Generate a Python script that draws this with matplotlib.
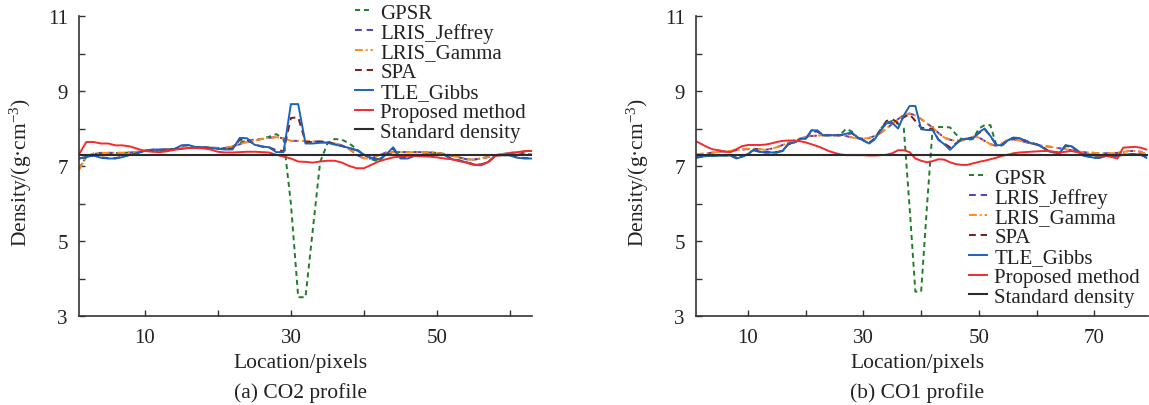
import numpy as np
import matplotlib
matplotlib.use("Agg")
import matplotlib.pyplot as plt

plt.rcParams['font.family'] = ['Liberation Serif', 'DejaVu Serif']
plt.rcParams['mathtext.fontset'] = 'custom'
plt.rcParams['mathtext.rm'] = 'Liberation Serif'
plt.rcParams['mathtext.it'] = 'Liberation Serif:italic'

# ---- (a) CO2 profile, locations 1..63 ----
loc_a = list(range(1, 64))
gamma_a = [6.90, 7.25, 7.33, 7.35, 7.35, 7.35, 7.35, 7.36, 7.38, 7.41,
           7.42, 7.43, 7.44, 7.45, 7.46, 7.48, 7.50, 7.50, 7.49, 7.48,
           7.48, 7.52, 7.58, 7.64, 7.68, 7.72, 7.75, 7.77, 7.74, 7.67,
           7.67, 7.67, 7.66, 7.65, 7.63, 7.60, 7.55, 7.45, 7.30, 7.20,
           7.20, 7.28, 7.36, 7.37, 7.37, 7.37, 7.37, 7.37, 7.36, 7.35,
           7.32, 7.28, 7.23, 7.18, 7.17, 7.20, 7.24, 7.29, 7.32, 7.35,
           7.36, 7.34, 7.30]
jeffrey_a = [6.92, 7.24, 7.32, 7.34, 7.35, 7.35, 7.35, 7.36, 7.38, 7.41,
             7.42, 7.43, 7.44, 7.45, 7.46, 7.48, 7.50, 7.50, 7.49, 7.48,
             7.48, 7.52, 7.58, 7.64, 7.68, 7.72, 7.75, 7.77, 7.74, 7.67,
             7.67, 7.67, 7.66, 7.65, 7.63, 7.60, 7.55, 7.45, 7.30, 7.20,
             7.20, 7.28, 7.36, 7.37, 7.37, 7.37, 7.37, 7.37, 7.36, 7.35,
             7.32, 7.28, 7.23, 7.18, 7.17, 7.20, 7.24, 7.29, 7.32, 7.35,
             7.36, 7.34, 7.30]
gpsr_a = [6.92, 7.25, 7.33, 7.35, 7.35, 7.35, 7.35, 7.36, 7.38, 7.41,
          7.42, 7.43, 7.44, 7.45, 7.46, 7.48, 7.50, 7.50, 7.49, 7.48,
          7.48, 7.52, 7.62, 7.68, 7.70, 7.72, 7.78, 7.85, 7.72, 6.00,
          3.50, 3.50, 5.30, 7.10, 7.60, 7.72, 7.70, 7.60, 7.45, 7.30,
          7.18, 7.12, 7.30, 7.37, 7.37, 7.37, 7.37, 7.37, 7.36, 7.35,
          7.32, 7.28, 7.23, 7.18, 7.17, 7.20, 7.24, 7.29, 7.32, 7.35,
          7.36, 7.34, 7.30]
tle_a = [7.20, 7.24, 7.28, 7.22, 7.20, 7.20, 7.24, 7.30, 7.35, 7.40,
         7.44, 7.44, 7.44, 7.44, 7.55, 7.56, 7.50, 7.50, 7.48, 7.46,
         7.44, 7.44, 7.75, 7.74, 7.57, 7.52, 7.50, 7.37, 7.37, 8.65,
         8.65, 7.60, 7.60, 7.62, 7.62, 7.57, 7.53, 7.48, 7.42, 7.30,
         7.22, 7.17, 7.30, 7.50, 7.20, 7.20, 7.28, 7.30, 7.30, 7.30,
         7.30, 7.18, 7.15, 7.10, 7.04, 7.03, 7.10, 7.28, 7.29, 7.28,
         7.22, 7.20, 7.20]
spa_a = [7.20, 7.24, 7.28, 7.23, 7.21, 7.21, 7.25, 7.30, 7.35, 7.40,
         7.43, 7.43, 7.44, 7.45, 7.54, 7.55, 7.50, 7.50, 7.48, 7.46,
         7.45, 7.47, 7.70, 7.70, 7.58, 7.52, 7.50, 7.42, 7.40, 8.28,
         8.30, 7.64, 7.64, 7.65, 7.65, 7.58, 7.53, 7.48, 7.42, 7.30,
         7.22, 7.18, 7.30, 7.46, 7.22, 7.21, 7.28, 7.30, 7.30, 7.30,
         7.30, 7.19, 7.15, 7.10, 7.05, 7.04, 7.10, 7.28, 7.29, 7.28,
         7.23, 7.21, 7.21]
proposed_a = [7.31, 7.64, 7.64, 7.60, 7.60, 7.55, 7.55, 7.52, 7.46, 7.40,
              7.38, 7.37, 7.39, 7.43, 7.46, 7.48, 7.48, 7.47, 7.44, 7.38,
              7.36, 7.36, 7.37, 7.38, 7.38, 7.37, 7.36, 7.30, 7.25, 7.20,
              7.12, 7.11, 7.09, 7.12, 7.14, 7.14, 7.09, 7.00, 6.94, 6.94,
              7.03, 7.12, 7.18, 7.23, 7.25, 7.27, 7.27, 7.26, 7.25, 7.23,
              7.20, 7.18, 7.13, 7.09, 7.03, 7.02, 7.11, 7.27, 7.30, 7.34,
              7.37, 7.40, 7.40]

# ---- (b) CO1 profile, locations 1..79 ----
loc_b = list(range(1, 80))
gamma_b = [7.31, 7.33, 7.35, 7.36, 7.38, 7.39, 7.40, 7.42, 7.44, 7.46,
           7.46, 7.45, 7.43, 7.46, 7.50, 7.56, 7.62, 7.68, 7.73, 7.77,
           7.80, 7.81, 7.82, 7.82, 7.82, 7.82, 7.80, 7.76, 7.74, 7.73,
           7.75, 7.80, 7.88, 8.00, 8.12, 8.25, 8.36, 8.40, 8.35, 8.25,
           8.14, 8.02, 7.88, 7.76, 7.70, 7.67, 7.68, 7.72, 7.78, 7.76,
           7.67, 7.58, 7.54, 7.60, 7.70, 7.71, 7.68, 7.64, 7.60, 7.57,
           7.54, 7.52, 7.50, 7.47, 7.45, 7.42, 7.39, 7.37, 7.36, 7.35,
           7.34, 7.34, 7.34, 7.35, 7.37, 7.40, 7.40, 7.38, 7.31]
jeffrey_b = [7.30, 7.32, 7.34, 7.36, 7.38, 7.39, 7.40, 7.42, 7.44, 7.45,
             7.46, 7.45, 7.43, 7.46, 7.50, 7.56, 7.62, 7.68, 7.73, 7.77,
             7.80, 7.81, 7.82, 7.82, 7.82, 7.82, 7.80, 7.76, 7.74, 7.73,
             7.75, 7.80, 7.88, 8.00, 8.12, 8.25, 8.36, 8.40, 8.35, 8.25,
             8.14, 8.02, 7.88, 7.76, 7.70, 7.67, 7.68, 7.72, 7.78, 7.76,
             7.67, 7.58, 7.54, 7.60, 7.70, 7.71, 7.68, 7.64, 7.60, 7.57,
             7.54, 7.52, 7.50, 7.47, 7.45, 7.42, 7.39, 7.37, 7.36, 7.35,
             7.34, 7.34, 7.34, 7.35, 7.37, 7.40, 7.40, 7.38, 7.31]
tle_b = [7.22, 7.25, 7.27, 7.27, 7.28, 7.28, 7.28, 7.20, 7.25, 7.31,
         7.44, 7.38, 7.36, 7.36, 7.36, 7.40, 7.60, 7.62, 7.72, 7.73,
         7.95, 7.95, 7.82, 7.82, 7.82, 7.82, 7.86, 7.89, 7.76, 7.68,
         7.60, 7.72, 7.95, 8.14, 8.15, 8.00, 8.35, 8.60, 8.60, 7.98,
         7.96, 7.96, 7.70, 7.58, 7.43, 7.58, 7.71, 7.72, 7.74, 7.90,
         8.00, 7.80, 7.56, 7.55, 7.68, 7.76, 7.74, 7.68, 7.61, 7.58,
         7.50, 7.40, 7.36, 7.34, 7.55, 7.53, 7.42, 7.28, 7.25, 7.22,
         7.22, 7.27, 7.27, 7.27, 7.30, 7.31, 7.31, 7.31, 7.22]
spa_b = [7.23, 7.25, 7.27, 7.28, 7.28, 7.29, 7.28, 7.22, 7.26, 7.32,
         7.42, 7.38, 7.37, 7.37, 7.37, 7.41, 7.58, 7.62, 7.71, 7.73,
         7.92, 7.92, 7.82, 7.82, 7.82, 7.82, 7.85, 7.87, 7.76, 7.69,
         7.62, 7.74, 7.98, 8.20, 8.25, 8.15, 8.30, 8.38, 8.20, 8.02,
         8.00, 7.98, 7.70, 7.60, 7.50, 7.60, 7.72, 7.73, 7.75, 7.88,
         7.98, 7.80, 7.57, 7.56, 7.68, 7.75, 7.73, 7.68, 7.62, 7.58,
         7.51, 7.41, 7.37, 7.35, 7.53, 7.52, 7.42, 7.29, 7.26, 7.23,
         7.23, 7.27, 7.27, 7.27, 7.30, 7.31, 7.31, 7.31, 7.23]
gpsr_b = [7.22, 7.25, 7.27, 7.27, 7.28, 7.28, 7.28, 7.21, 7.25, 7.31,
          7.44, 7.38, 7.36, 7.36, 7.36, 7.40, 7.60, 7.62, 7.72, 7.73,
          7.95, 7.95, 7.82, 7.82, 7.82, 7.84, 7.99, 7.92, 7.76, 7.68,
          7.60, 7.72, 8.00, 8.15, 8.20, 8.12, 8.00, 5.90, 3.65, 3.65,
          5.90, 8.03, 8.04, 8.04, 8.03, 7.85, 7.72, 7.70, 7.72, 8.00,
          8.09, 8.09, 7.57, 7.55, 7.68, 7.76, 7.74, 7.68, 7.61, 7.58,
          7.50, 7.40, 7.36, 7.34, 7.55, 7.53, 7.42, 7.28, 7.25, 7.22,
          7.22, 7.27, 7.27, 7.27, 7.30, 7.31, 7.31, 7.31, 7.22]
proposed_b = [7.66, 7.58, 7.50, 7.44, 7.42, 7.38, 7.37, 7.45, 7.53, 7.56,
              7.56, 7.56, 7.57, 7.60, 7.64, 7.67, 7.68, 7.68, 7.66, 7.63,
              7.58, 7.53, 7.47, 7.40, 7.35, 7.31, 7.29, 7.29, 7.29, 7.29,
              7.28, 7.28, 7.29, 7.30, 7.34, 7.42, 7.42, 7.37, 7.20, 7.14,
              7.10, 7.13, 7.18, 7.17, 7.10, 7.05, 7.03, 7.03, 7.07, 7.11,
              7.14, 7.18, 7.22, 7.27, 7.30, 7.34, 7.36, 7.37, 7.38, 7.39,
              7.40, 7.40, 7.38, 7.36, 7.38, 7.40, 7.37, 7.33, 7.31, 7.30,
              7.28, 7.27, 7.24, 7.20, 7.49, 7.50, 7.51, 7.49, 7.44]

standard_density = 7.29

labels = ['GPSR', 'LRIS_Jeffrey', 'LRIS_Gamma', 'SPA', 'TLE_Gibbs',
          'Proposed method', 'Standard density']
colors = ['#1f7d2a', '#5a3cc0', '#ff8a1a', '#7a1c1c', '#1c62c0',
          '#f52a2a', '#2b2b2b']
styles = [(0, (2.6, 2)), (0, (3.5, 2.5)), (0, (4, 1.5, 1, 1.5)),
          (0, (3.5, 2.5)), '-', '-', '-']

W, H = 1149, 406
fig = plt.figure(figsize=(W / 100, H / 100), dpi=100)

ax_a = fig.add_axes([79 / W, 1 - 317 / H, (532 - 79) / W, 300 / H])
ax_b = fig.add_axes([696 / W, 1 - 317 / H, (1148 - 696) / W, 300 / H])

panels = [
    (ax_a, loc_a, [gpsr_a, jeffrey_a, gamma_a, spa_a, tle_a, proposed_a],
     (1, 63), [10, 20, 30, 40, 50, 60], ['10', '', '30', '', '50', ''],
     '(a) CO2 profile', (355, 4)),
    (ax_b, loc_b, [gpsr_b, jeffrey_b, gamma_b, spa_b, tle_b, proposed_b],
     (1, 79.3), [10, 20, 30, 40, 50, 60, 70],
     ['10', '', '30', '', '50', '', '70'],
     '(b) CO1 profile', (969, 169)),
]

for ax, x, series, xlim, xt, xtl, caption, leg_xy in panels:
    for vals, lab, c, ls in zip(series, labels, colors, styles):
        ax.plot(x, vals, color=c, linestyle=ls, lw=1.4, label=lab)
    ax.axhline(standard_density, color=colors[6], lw=1.5, label=labels[6])

    ax.set_xlim(*xlim)
    ax.set_ylim(3, 11)
    ax.set_xticks(xt)
    ax.set_xticklabels(xtl)
    ax.set_yticks(range(3, 12))
    ax.set_yticklabels(['3', '', '5', '', '7', '', '9', '', '11'])
    ax.tick_params(direction='in', length=4, width=1, color='#333333',
                   labelsize=15, labelcolor='#222222', pad=8)
    ax.tick_params(axis='x', pad=9)
    for side in ['top', 'right']:
        ax.spines[side].set_visible(False)
    for side in ['left', 'bottom']:
        ax.spines[side].set_color('#333333')
        ax.spines[side].set_linewidth(1.2)

    ax.set_xlabel('Location/pixels', fontsize=15.5, color='#222222')
    ax.xaxis.set_label_coords(0.49, -0.125)
    ax.set_ylabel('Density/(g·cm$^{-3}$)', fontsize=15.5, color='#222222')
    ax.yaxis.set_label_coords(-0.100, 0.483)

    pos = ax.get_position()
    fig.text(pos.x0 + 0.49 * pos.width, 1 - 393 / H, caption, fontsize=15.5,
             ha='center', va='center', color='#222222')

    ax.legend(loc='upper left',
              bbox_to_anchor=(leg_xy[0] / W, 1 - leg_xy[1] / H),
              bbox_transform=fig.transFigure, frameon=False, fontsize=15,
              handlelength=0.87, handletextpad=0.34, labelspacing=0.01,
              borderpad=0, borderaxespad=0, labelcolor='#222222')

fig.savefig('out.png', dpi=100)
